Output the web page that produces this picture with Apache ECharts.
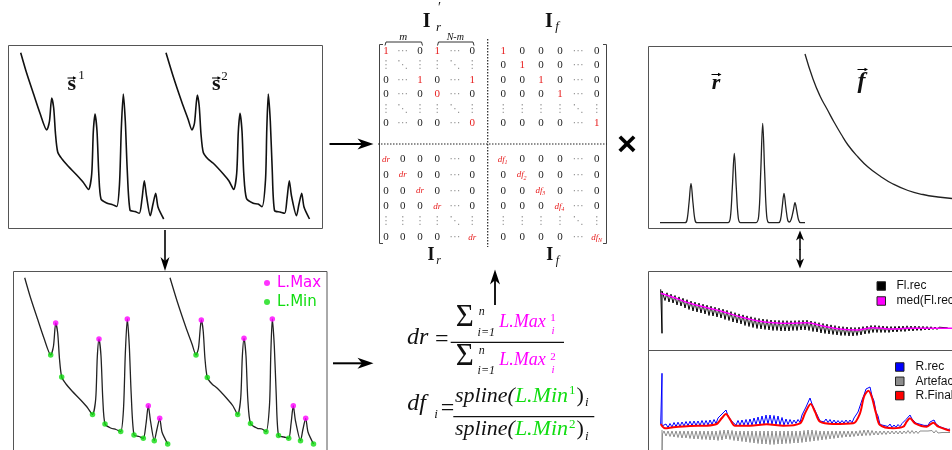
<!DOCTYPE html>
<html><head><meta charset="utf-8">
<script src="https://cdn.jsdelivr.net/npm/echarts@6.0.0/dist/echarts.min.js"></script>
<style>html,body{margin:0;padding:0;background:#fff;overflow:hidden}#c{width:952px;height:450px}</style>
</head><body><div id="c"></div>
<script>
// ---------------- data ----------------
// raw spectra s1 and s2 (x: channel, y: intensity)
const spectrum1 = [[12.7,176.3],[18.7,155.7],[25.3,135.7],[32,115.7],[38.7,99],
  [41.5,108],[43.7,131],[45.7,121],[47.5,95],[49.7,77],[54,70],[60,63],[68.7,54],[75,47],[80.5,39.5],
  [83.7,55],[85.3,97],[87,115],[89,98],[90.8,55],[93,30],[98.7,26],[104,24.5],[108.7,22.5],
  [111.5,45],[113.3,100],[115.3,135],[117.3,108],[119.2,60],[122,19],[127,17.5],[131.3,15.7],
  [134,30],[136.3,48.3],[138.5,33],[142.3,13.3],[145,25],[147.7,35.7],[150,22],[155.7,10]];
const spectrum2 = [[158,176.3],[165.3,152.3],[173.7,127.3],[180,110],[184,99],
  [186.5,106],[189.3,134],[191.2,123],[193,95],[195.3,76.5],[200,70],[205.3,65.7],[215.3,55],[221,48],[225.7,39.5],
  [228.7,55.7],[230.3,97],[232,115.7],[234,98],[235.8,55],[238.5,30.5],[245.3,25.7],[250,25],[254,22.3],
  [257.5,49],[258.8,100],[260.3,135],[262.3,108],[264.2,60],[266.5,18.5],[272,17],[276.7,15.7],
  [279,30],[281.3,48.3],[283.5,33],[288.5,13.3],[291,25],[293.7,35.7],[296,22],[301.5,10]];
const localMax = [[43.7,131],[87,115],[115.3,135],[136.3,48.3],[147.7,35.7],
  [189.3,134],[232,115.7],[260.3,135],[281.3,48.3],[293.7,35.7]];
const localMin = [[38.7,99],[49.7,77],[80.5,39.5],[93,30],[108.7,22.5],[122,19],[131.3,15.7],[142.3,13.3],[155.7,10],
  [184,99],[195.3,76.5],[225.7,39.5],[238.5,30.5],[254,22.3],[266.5,18.5],[276.7,15.7],[288.5,13.3],[301.5,10]];
// pure Raman r and fluorescence f
const ramanR = [[12,6.3],[37,6.3],[39,9],[41,26],[43,45.7],[45,26],[47,9],[49,6.3],
  [80,6.3],[82.3,11],[84.3,41],[86.3,75.7],[88.3,41],[90.3,11],[92.5,6.3],
  [108,6.3],[110.7,13],[112.7,56],[114.7,105.7],[116.7,56],[118.7,13],[121,6.3],
  [130.5,6.3],[132.5,9],[134.2,22],[136,35.7],[137.8,22],[139.8,8.5],[141.5,7],
  [143.3,10],[145.2,18],[147,26.3],[148.8,18],[150.6,9],[152.5,6.3],[157,6.3]];
const fluoF = [[157,175],[165,150],[172,133],[179,120],[186,107],[193,95],[200,84],[210,72],[220,62],
  [232,53],[245,45],[260,38.5],[275,34.5],[290,32],[304,30.5]];
// reconstructed fluorescence (samples every 2 channels)
const STEP = 2;
const flRecHead = [[12.7,61.7],[14,17.7],[14,60]];
const flRecVals = [59.5,50.5,58.2,49,56.8,48,55.5,46,54.1,45,52.7,43,51.3,41.5,49.9,40,48.9,39,47.9,38,
  46.8,37,45.8,35.5,44.8,35,43.8,34,42.8,33,41.8,31.5,40.6,30.5,39.4,29,38.3,28,37.1,27,
  36.1,25.5,35.1,24.5,34.2,23.5,33.3,22.5,32.5,22,32,21.5,31.5,21,31,20.5,30.7,20.5,30.6,20,
  30.4,20,30.3,20,30.2,20.5,30.4,20.5,30.5,21,30.7,21,30.8,20.5,30,19.5,29.2,19,28.3,18,
  27.5,17.5,26.8,17,26.1,16.5,25.4,16,24.7,15.5,24.3,15.5,24,15,23.7,15,23.5,15.5,23.8,16,
  24.4,17,24.9,17.5,25.5,18.5,25.6,18.5,25.3,18.5,25,18.5,24.7,18.5,24.5,19,24.7,19,24.9,19.5,
  25,19.5,25.2,20,25,20,25,20.5,24.8,20.5,24.7,21,24.5,21,24.3,21.5,24,21.5,23.8,22,
  23.5,22,23.2,22.3];
const medFlRec = [[12.7,57.7],[25,53.7],[42,47.7],[59,43.3],[75,39.3],[92,34.3],[109,30.3],[125,28.3],
  [142,27.7],[159,28.3],[175,25],[192,22],[209,21],[225,23.3],[242,22],[259,22.7],[275,22.7],[304,22.7]];
// reconstructed Raman, artefact, final Raman (samples every 2 channels)
const rRecHead = [[12.7,37],[14,87.7],[14,35]];
const rRecVals = [33.5,37,33.5,37.5,34,38.5,34.4,38.8,34.7,39,35,39.5,35.3,39.8,35.5,40,35.6,40,35.7,40.5,
  35.8,40.5,36,41,36.7,41.5,37.4,43,41.5,47,46,51,45,45.5,39.6,40.5,35.8,40.5,35.8,41,
  35.8,41.5,35.8,42,36,43,36.5,44,36.6,45,37,46,37.1,46,36.7,45.5,36.4,45,36.1,43.5,
  35.9,42,36.5,41.5,37.1,41,37.6,41.5,38.5,46,47,54,54,63,57,57,48.5,47.5,
  40,42,39.1,42,38.4,41.5,37.6,41,37.6,40.5,37.7,40.5,37.9,41,38,41,38.2,43,42.5,49,
  50,61,66,72,73,74,65,60,49,45,36.5,38.5,35.5,37.5,34.5,37,33.5,36,33.6,36.5,
  34.3,37.5,36,41.5,42,46,42,41.5,37.9,39.5,36.8,38.5,35.6,37,35.6,39,38.5,41,37,37.5,
  34.2,35.5,32.8,34,31.5,32];
const artefactHead = [[14,31],[14,3],[14.5,27]];
const artefactVals = [30,25,30,24.5,30,24,30,23.5,30,23,30,23,30,22.5,30,22,30,22,30,21.5,
  30,21.5,30,21,30,21,30,20.5,30.5,21,31,22,31,21.5,30.5,20.5,30,20,30,19.5,
  30,19,30,18.5,30,18,30,17.5,30,17,30,17,30,16.5,30,16.5,30,17,30,17,
  30,17.5,30,17.5,30,18,30,18,30,18.5,30.5,19,31,19.5,31,20,30.5,20.5,30,21,
  30,21.5,30,22,30,22.5,30,23,30,23.5,30,24,30,24,30,24.5,30,25,30.5,25,
  31,25.5,31,25.5,30.5,26,30,26,30,26.5,30,26.5,30,27,30,27,30,27,30,27,
  30,27.5,30.5,27.5,30.5,27.5,30,27.5,30,28,30,28,30,28,30.5,28,30.5,28,30,28.5,
  30,28.5,30,28.5];
const rFinal = [[12.7,37],[17,32.7],[25.3,33.7],[42,35],[58.7,35.3],[68.7,37],[73.7,42.7],[78,47],[82,41.7],
  [87,35.3],[102,35.3],[118.7,36.7],[135.3,35.3],[152,37.7],[157,47.7],[162.7,57],[167,49.3],[172,39.3],
  [185.3,37],[205.3,37.7],[212,47.7],[216,64.3],[220.3,70.3],[223.7,64.3],[228,47.7],[232,36],[245.3,32.7],
  [255.3,34.3],[258.7,39.3],[262,42.7],[267,37.7],[278.7,34.3],[285.3,38.3],[290.3,34.3],[302,30.3]];
// matrix entries ('*' = red)
const matrixTop = [
  ['1*','⋯','0','1*','⋯','0','1*','0','0','0','⋯','0'],
  ['⋮','⋱','⋮','⋮','⋱','⋮','0','1*','0','0','⋯','0'],
  ['0','⋯','1*','0','⋯','1*','0','0','1*','0','⋯','0'],
  ['0','⋯','0','0*','⋯','0','0','0','0','1*','⋯','0'],
  ['⋮','⋱','⋮','⋮','⋱','⋮','⋮','⋮','⋮','⋮','⋱','⋮'],
  ['0','⋯','0','0','⋯','0*','0','0','0','0','⋯','1*']];
const matrixBottom = [
  ['dr*','0','0','0','⋯','0','df_1*','0','0','0','⋯','0'],
  ['0','dr*','0','0','⋯','0','0','df_2*','0','0','⋯','0'],
  ['0','0','dr*','0','⋯','0','0','0','df_3*','0','⋯','0'],
  ['0','0','0','dr*','⋯','0','0','0','0','df_4*','⋯','0'],
  ['⋮','⋮','⋮','⋮','⋱','⋮','⋮','⋮','⋮','⋮','⋱','⋮'],
  ['0','0','0','0','⋯','dr*','0','0','0','0','⋯','df_N*']];

// ---------------- layout / style ----------------
const SERIF = '"Liberation Serif","DejaVu Serif",serif';
const MAG = '#ff00ff', GRN = '#11dd11', RED = '#e82020';
const seq = (head, vals, x0) => head.concat(vals.map((v, i) => [x0 + STEP * i, v]));
const cv = document.createElement('canvas').getContext('2d');
const fontStr = (size, style, weight) => (style || 'normal') + ' ' + (weight || 'normal') + ' ' + size + 'px ' + SERIF;
const tw = (s, f) => { cv.font = f; return cv.measureText(s).width; };

const G = [];
function text(x, y, s, font, color, align) {
  G.push({type: 'text', x: x, y: y, silent: true, z: 20,
    style: {text: s, font: font, fill: color || '#111', align: align || 'center', verticalAlign: 'middle',
            textAlign: align || 'center', textVerticalAlign: 'middle'}});
}
function tb(x, base, s, size, st, wt, color, align) {
  text(x, base - 0.34 * size, s, fontStr(size, st, wt), color, align);
}
function line(x1, y1, x2, y2, stroke, lw, dash) {
  G.push({type: 'line', silent: true, z: 15, shape: {x1, y1, x2, y2},
    style: {stroke: stroke || '#000', lineWidth: lw || 1, lineDash: dash || null}});
}
function poly(points, stroke, lw) {
  G.push({type: 'polyline', silent: true, z: 15, shape: {points}, style: {stroke, lineWidth: lw, fill: null}});
}
function rect(x, y, w, h, stroke) {
  G.push({type: 'rect', silent: true, z: 1, shape: {x, y, width: w, height: h},
    style: {fill: 'transparent', stroke: stroke || '#555', lineWidth: 1}});
}
function arrow(x1, y1, x2, y2, L, W, lw) {
  const dx = x2 - x1, dy = y2 - y1, len = Math.hypot(dx, dy), ux = dx / len, uy = dy / len, px = -uy, py = ux;
  const bx = x2 - ux * L, by = y2 - uy * L, nx = x2 - ux * L * 0.72, ny = y2 - uy * L * 0.72;
  line(x1, y1, nx + ux, ny + uy, '#000', lw);
  G.push({type: 'polygon', silent: true, z: 16,
    shape: {points: [[x2, y2], [bx + px * W / 2, by + py * W / 2], [nx, ny], [bx - px * W / 2, by - py * W / 2]]},
    style: {fill: '#000'}});
}
function vec(x1, x2, y) {
  line(x1, y, x2 - 2, y, '#000', 1);
  G.push({type: 'polygon', silent: true, z: 16, shape: {points: [[x2, y], [x2 - 3.5, y - 1.8], [x2 - 3.5, y + 1.8]]}, style: {fill: '#000'}});
}
function chain(x, base, pieces) {
  pieces.forEach(p => {
    const f = fontStr(p.size, p.st, p.wt);
    text(x, base + (p.dy || 0) - 0.34 * p.size, p.t, f, p.c || '#111', 'left');
    x += tw(p.t, f) + (p.gap || 0);
  });
}

// boxes
rect(8.5, 45.5, 314, 183);
rect(13.5, 271.5, 313.5, 200);
rect(648.5, 46.5, 330, 182);
rect(648.5, 271.5, 330, 200);
line(648.5, 350.5, 952, 350.5, '#555', 1);

// arrows
arrow(329.5, 144, 373.5, 144, 16, 11, 2);
arrow(333, 363.3, 373.5, 363.3, 16, 11, 2);
arrow(165, 230, 165, 271, 14, 9, 1.6);
arrow(495, 305, 495, 269.5, 15, 10, 1.8);
arrow(800, 250, 800, 230.5, 10, 8, 1.5);
arrow(800, 249, 800, 268.5, 10, 8, 1.5);

// vector labels
tb(71.7, 91.7, 's', 22, 'normal', 'bold'); vec(67.5, 76.5, 78); tb(81.5, 79.5, '1', 13);
tb(216.2, 91.7, 's', 22, 'normal', 'bold'); vec(212, 221, 78); tb(224.5, 81, '2', 13);
tb(716, 90.7, 'r', 22, 'italic', 'bold'); vec(711.5, 721.5, 74.5);
tb(861.5, 90, 'f', 24, 'italic', 'bold'); vec(857.5, 868, 69.5);

// multiplication sign
text(627, 146, '×', 'bold 34px "Liberation Sans",sans-serif', '#000', 'center');

// matrix titles
tb(426.7, 28.3, 'I', 20, 'normal', 'bold'); tb(438.5, 32, 'r', 13, 'italic'); tb(439.5, 13, '′', 14);
tb(549, 28.3, 'I', 20, 'normal', 'bold'); tb(557, 31, 'f', 13, 'italic');
tb(431, 261.7, 'I', 18, 'normal', 'bold'); tb(438.5, 265, 'r', 12, 'italic');
tb(549.7, 261.7, 'I', 18, 'normal', 'bold'); tb(557.5, 264.5, 'f', 12, 'italic');
// braces
poly([[385, 45.5], [386, 42], [421.5, 42], [422.5, 45.5]], '#333', 1);
poly([[437.5, 45.5], [438.5, 42], [473, 42], [474, 45.5]], '#333', 1);
tb(403.3, 40.5, 'm', 11, 'italic');
tb(455.3, 40.5, 'N-m', 10, 'italic');
// brackets and separators
poly([[383, 44.5], [379.5, 44.5], [379.5, 243.5], [383, 243.5]], '#444', 1);
poly([[603, 44.5], [606.5, 44.5], [606.5, 243.5], [603, 243.5]], '#444', 1);
line(487.7, 39, 487.7, 247, '#222', 1.2, [1.5, 1.5]);
line(378, 144, 607, 144, '#222', 1.2, [1.5, 1.5]);
// matrix entries
const colX = [386, 402.7, 420, 437.3, 455, 472.3, 503.3, 522.3, 541, 560, 578.3, 596.7];
const rowTopY = [51, 65, 80, 94.3, 109.3, 123.3];
const rowBotY = [159.5, 175, 190.7, 206.5, 221, 237.3];
function cell(s, x, y) {
  const red = s.endsWith('*');
  const t = red ? s.slice(0, -1) : s;
  const dots = '⋯⋮⋱'.indexOf(t) >= 0;
  const col = red ? RED : (dots ? '#999' : '#222');
  if (t.indexOf('_') >= 0) {
    const [a, b] = t.split('_');
    text(x + 1.5, y, a, fontStr(9, 'italic'), col, 'right');
    text(x + 1.3, y + 3, b, fontStr(6, 'italic'), col, 'left');
  } else if (t === 'dr') {
    text(x, y, t, fontStr(9, 'italic'), col, 'center');
  } else {
    text(x, y, t, dots ? '11px "DejaVu Sans",sans-serif' : fontStr(11), col, 'center');
  }
}
matrixTop.forEach((row, r) => row.forEach((s, c) => cell(s, colX[c], rowTopY[r])));
matrixBottom.forEach((row, r) => row.forEach((s, c) => cell(s, colX[c], rowBotY[r])));

// dr formula
tb(407, 346, 'dr', 24, 'italic', 'normal', '#111', 'left');
tb(435, 347.7, '=', 24, 'normal', 'normal', '#111', 'left');
line(450.7, 342.3, 564, 342.3, '#111', 1.2);
[[328.3, 316, 337.3, '1', 322, 335], [366.7, 354.5, 375, '2', 361, 374]].forEach(([b, nb, ib, sup, sb, ssb]) => {
  tb(464.7, b + 0.5, 'Σ', 31);
  tb(481.7, nb, 'n', 12, 'italic');
  tb(486.3, ib, 'i=1', 12, 'italic');
  tb(499.3, b, 'L.Max', 18, 'italic', 'normal', MAG, 'left');
  tb(553, sb, sup, 11, 'normal', 'normal', MAG);
  tb(553, ssb, 'i', 11, 'italic', 'normal', MAG);
});
// df formula
tb(407.3, 411.7, 'df', 24, 'italic', 'normal', '#111', 'left');
tb(436, 419.3, 'i', 13, 'italic');
tb(440.7, 417, '=', 24, 'normal', 'normal', '#111', 'left');
line(453.3, 416.7, 594.3, 416.7, '#111', 1.2);
[[403.3, '1'], [436.7, '2']].forEach(([b, sup]) => {
  chain(455, b, [
    {t: 'spline(', size: 22, st: 'italic'},
    {t: 'L.Min', size: 22, st: 'italic', c: GRN, gap: 1},
    {t: sup, size: 13, c: GRN, dy: -8, gap: 1},
    {t: ')', size: 22, gap: 1},
    {t: 'i', size: 13, st: 'italic', dy: 4}]);
});

// ---------------- chart ----------------
const grids = [
  {left: 8, top: 45, width: 315, height: 184},
  {left: 12, top: 270, width: 315, height: 184},
  {left: 648, top: 47, width: 304, height: 182},
  {left: 648, top: 272, width: 304, height: 79},
  {left: 648, top: 351, width: 304, height: 110}];
const xMax = [315, 315, 304, 304, 304];
const yMax = [184, 184, 182, 79, 110];
const lineS = (name, gi, data, color, width, smooth, z) => ({
  name, type: 'line', xAxisIndex: gi, yAxisIndex: gi, data, symbol: 'none', showSymbol: false,
  smooth: smooth || false, silent: true, z: z || 2, lineStyle: {color, width}, itemStyle: {color}, emphasis: {disabled: true}});

const option = {
  animation: false,
  backgroundColor: '#fff',
  grid: grids.map(g => Object.assign({outerBoundsMode: 'none', containLabel: false}, g)),
  xAxis: grids.map((g, i) => ({type: 'value', gridIndex: i, min: 0, max: xMax[i], show: false})),
  yAxis: grids.map((g, i) => ({type: 'value', gridIndex: i, min: 0, max: yMax[i], show: false})),
  legend: [
    {data: [{name: 'L.Max', textStyle: {color: MAG}}, {name: 'L.Min', textStyle: {color: GRN}}],
     icon: 'circle', orient: 'vertical', left: 264, top: 274, padding: 0, itemWidth: 6, itemHeight: 6, itemGap: 1,
     selectedMode: false, textStyle: {fontFamily: 'DejaVu Sans', fontSize: 15, lineHeight: 18, padding: [0, 0, 0, 2]}},
    {data: ['Fl.rec', 'med(Fl.rec)'], icon: 'rect', orient: 'vertical', left: 876.5, top: 279, padding: 0,
     itemWidth: 8.5, itemHeight: 8.5, itemGap: 1, selectedMode: false, itemStyle: {borderColor: '#222', borderWidth: 1},
     textStyle: {fontFamily: '"Liberation Sans",Arial,sans-serif', fontSize: 12, lineHeight: 14, color: '#111', padding: [0, 0, 0, 6]}},
    {data: ['R.rec', 'Artefact', 'R.Final'], icon: 'rect', orient: 'vertical', left: 895, top: 360, padding: 0,
     itemWidth: 8.5, itemHeight: 8.5, itemGap: 0.3, selectedMode: false, itemStyle: {borderColor: '#222', borderWidth: 1},
     textStyle: {fontFamily: '"Liberation Sans",Arial,sans-serif', fontSize: 12, lineHeight: 14, color: '#111', padding: [0, 0, 0, 6.5]}}
  ],
  graphic: {elements: G},
  series: [
    lineS('s1', 0, spectrum1, '#111', 1.6, 0.25),
    lineS('s2', 0, spectrum2, '#111', 1.6, 0.25),
    lineS('s1b', 1, spectrum1, '#222', 1.3, 0.25),
    lineS('s2b', 1, spectrum2, '#222', 1.3, 0.25),
    {name: 'L.Max', type: 'scatter', xAxisIndex: 1, yAxisIndex: 1, data: localMax, symbol: 'circle', symbolSize: 5.5,
     itemStyle: {color: MAG}, z: 5, silent: true},
    {name: 'L.Min', type: 'scatter', xAxisIndex: 1, yAxisIndex: 1, data: localMin, symbol: 'circle', symbolSize: 5.5,
     itemStyle: {color: GRN}, z: 5, silent: true},
    lineS('r', 2, ramanR, '#222', 1.3, 0.35),
    lineS('f', 2, fluoF, '#222', 1.3, 0.5),
    lineS('Fl.rec', 3, seq(flRecHead, flRecVals, 15), '#000', 1, false, 2),
    lineS('med(Fl.rec)', 3, medFlRec, MAG, 1.5, 0.4, 3),
    lineS('Artefact', 4, seq(artefactHead, artefactVals, 16), '#8c8c8c', 1, false, 2),
    lineS('R.rec', 4, seq(rRecHead, rRecVals, 16), '#0000ff', 1, false, 3),
    lineS('R.Final', 4, rFinal, '#ff0000', 2, 0.3, 4)
  ]
};
const chart = echarts.init(document.getElementById('c'), null, {renderer: 'canvas', width: 952, height: 450});
chart.setOption(option);
</script></body></html>
